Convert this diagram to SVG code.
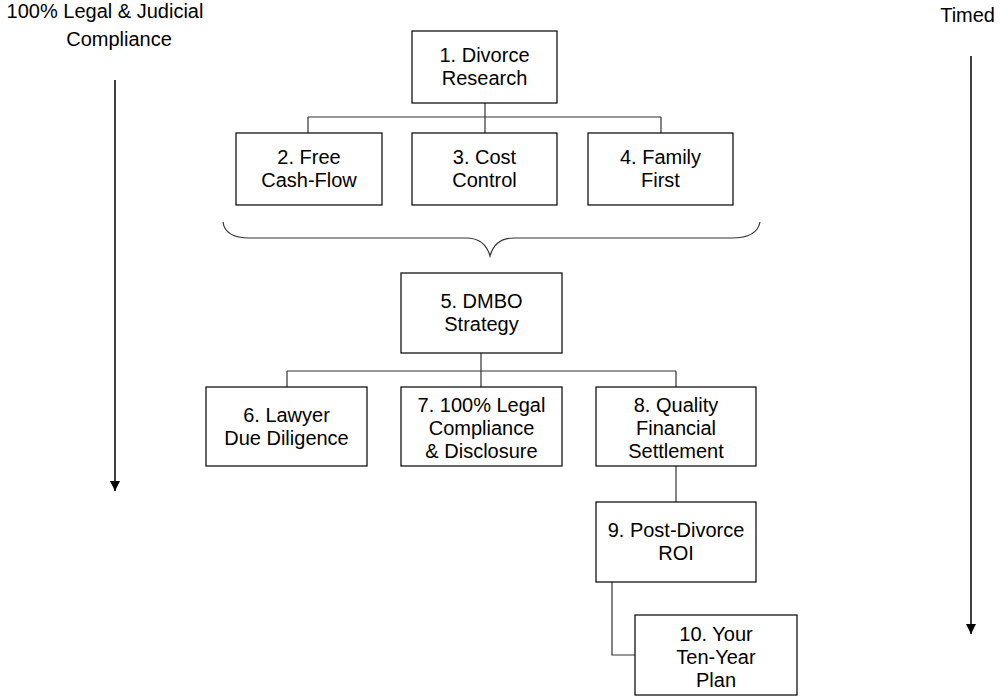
<svg xmlns="http://www.w3.org/2000/svg" width="1000" height="700" viewBox="0 0 1000 700">
<defs>
<style>
.box{fill:#fff;stroke:#000;stroke-width:1.2}
.t{font-family:"Liberation Sans",Arial,sans-serif;font-size:20px;fill:#000;text-anchor:middle}
.c{fill:none;stroke:#333;stroke-width:1.2}
.a{fill:none;stroke:#000;stroke-width:1.5}
</style>
<marker id="ah" viewBox="0 0 10 10" refX="10" refY="5" markerWidth="10" markerHeight="10" markerUnits="userSpaceOnUse" orient="auto">
<path d="M0,0 L10,5 L0,10 Z" fill="#000"/>
</marker>
</defs>
<rect width="1000" height="700" fill="#fff"/>

<g id="labels">
<text class="t" x="105" y="18">100% Legal &amp; Judicial</text>
<text class="t" x="119" y="46">Compliance</text>
<text class="t" x="995" y="22" style="text-anchor:end">Timed</text>
</g>

<g id="arrows">
<line class="a" x1="115" y1="80" x2="115" y2="491" marker-end="url(#ah)"/>
<line class="a" x1="971" y1="56" x2="971" y2="634" marker-end="url(#ah)"/>
</g>

<g id="connectors">
<path class="c" d="M485,103 V117 M308,117 H661 M308,117 V133 M485,117 V133 M661,117 V133"/>
<path class="c" d="M223,222 Q225,238 250,238 L466,238 Q485,238 490,256 Q495,238 514,238 L732,238 Q757,238 760,222"/>
<path class="c" d="M481,353 V371 M287,371 H676 M287,371 V387 M481,371 V387 M676,371 V387"/>
<path class="c" d="M676,466 V502"/>
<path class="c" d="M612,582 V655 H635"/>
</g>

<g id="n1"><rect class="box" x="412" y="31" width="145" height="72"/>
<text class="t" x="484.5" y="62">1. Divorce</text><text class="t" x="484.5" y="85">Research</text></g>
<g id="n2"><rect class="box" x="236" y="133" width="146" height="72"/>
<text class="t" x="309" y="164">2. Free</text><text class="t" x="309" y="187">Cash-Flow</text></g>
<g id="n3"><rect class="box" x="412" y="133" width="145" height="72"/>
<text class="t" x="484.5" y="164">3. Cost</text><text class="t" x="484.5" y="187">Control</text></g>
<g id="n4"><rect class="box" x="588" y="133" width="145" height="72"/>
<text class="t" x="660.5" y="164">4. Family</text><text class="t" x="660.5" y="187">First</text></g>
<g id="n5"><rect class="box" x="401" y="273" width="161" height="80"/>
<text class="t" x="481.5" y="308">5. DMBO</text><text class="t" x="481.5" y="331">Strategy</text></g>
<g id="n6"><rect class="box" x="206" y="387" width="161" height="79"/>
<text class="t" x="286.5" y="422">6. Lawyer</text><text class="t" x="286.5" y="445">Due Diligence</text></g>
<g id="n7"><rect class="box" x="401" y="387" width="161" height="79"/>
<text class="t" x="481.5" y="412">7. 100% Legal</text><text class="t" x="481.5" y="435">Compliance</text><text class="t" x="481.5" y="458">&amp; Disclosure</text></g>
<g id="n8"><rect class="box" x="596" y="387" width="160" height="79"/>
<text class="t" x="676" y="412">8. Quality</text><text class="t" x="676" y="435">Financial</text><text class="t" x="676" y="458">Settlement</text></g>
<g id="n9"><rect class="box" x="596" y="502" width="160" height="80"/>
<text class="t" x="676" y="537">9. Post-Divorce</text><text class="t" x="676" y="560">ROI</text></g>
<g id="n10"><rect class="box" x="635" y="615" width="162" height="80"/>
<text class="t" x="716" y="641">10. Your</text><text class="t" x="716" y="664">Ten-Year</text><text class="t" x="716" y="687">Plan</text></g>
</svg>
